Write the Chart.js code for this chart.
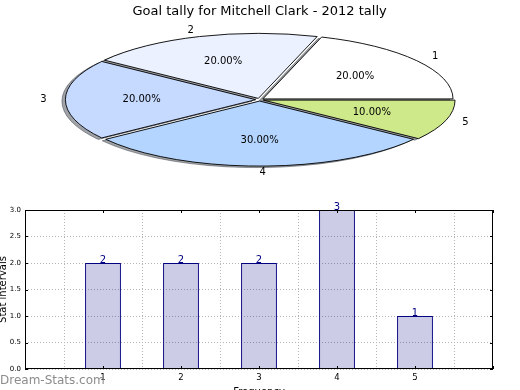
<!DOCTYPE html>
<html><head><meta charset="utf-8">
<script src="https://cdn.jsdelivr.net/npm/chart.js@4.4.1/dist/chart.umd.min.js"></script>
<style>
html,body{margin:0;padding:0;background:#fff;overflow:hidden;width:520px;height:390px;position:relative;}
#pieWrap{position:absolute;left:0;top:0;width:520px;height:195px;}
#barWrap{position:absolute;left:-5px;top:195px;width:525px;height:205px;}
#wm{position:absolute;left:0;top:373px;font:12px "DejaVu Sans";line-height:14px;color:#8c8c8c;z-index:5;white-space:nowrap;}
</style></head><body>
<div id="pieWrap"><canvas id="pie" width="520" height="195"></canvas></div>
<div id="barWrap"><canvas id="bar" width="525" height="205"></canvas></div>
<div id="wm">Dream-Stats.com</div>
<script>
const TITLE = 'Goal tally for Mitchell Clark - 2012 tally';
const categories = ['1', '2', '3', '4', '5'];
const goals = [2, 2, 2, 3, 1];
const sliceColors = ['#ffffff', '#ebf1ff', '#c6d9ff', '#b3d5ff', '#cee98a'];
const xAxisTitle = 'Frequency';
const yAxisTitle = 'Stat intervals';
const watermark = 'Dream-Stats.com';

const FONT = '"DejaVu Sans", "Liberation Sans", sans-serif';
const SY = 0.342;          // vertical squash of the pie (ellipse look)
const SHADOW_DX = -3.5, SHADOW_DY = 1.5;
const total = goals.reduce((a, b) => a + b, 0);

function arcGeom(arc) {
  const p = arc.getProps(['x', 'y', 'startAngle', 'endAngle', 'outerRadius', 'circumference'], true);
  const t = (arc.options.offset || 0) / 4;
  const mid = (p.startAngle + p.endAngle) / 2;
  const rOff = t * (1 - Math.sin(Math.min(Math.PI, p.circumference || 0)));
  return {
    x: p.x, y: p.y, start: p.startAngle, end: p.endAngle, mid: mid,
    R0: p.outerRadius, R: p.outerRadius + rOff,
    ax: p.x + t * Math.cos(mid), ay: p.y - SY * t * Math.sin(mid)
  };
}
function arcPath(ctx, g, dx, dy) {
  ctx.beginPath();
  ctx.moveTo(g.ax + dx, g.ay + dy);
  ctx.ellipse(g.ax + dx, g.ay + dy, g.R, g.R * SY, 0, -g.start, -g.end, true);
  ctx.closePath();
}

const piePlugin = {
  id: 'ellipsePie',
  beforeDatasetsDraw(chart) {
    const ctx = chart.ctx;
    const meta = chart.getDatasetMeta(0);
    const geoms = meta.data.map(arcGeom);
    ctx.save();
    geoms.forEach(g => {
      arcPath(ctx, g, SHADOW_DX, SHADOW_DY);
      ctx.fillStyle = 'rgba(45,50,60,0.45)';
      ctx.fill();
      ctx.lineWidth = 1;
      ctx.strokeStyle = 'rgba(45,50,60,0.45)';
      ctx.stroke();
    });
    ctx.restore();
    const cx = geoms[0].x, cy = geoms[0].y;
    ctx.save();
    ctx.translate(cx, cy);
    ctx.scale(1, -SY);
    ctx.translate(-cx, -cy);
  },
  afterDatasetsDraw(chart) {
    const ctx = chart.ctx;
    ctx.restore();
    const meta = chart.getDatasetMeta(0);
    ctx.save();
    meta.data.forEach((arc, i) => {
      const g = arcGeom(arc);
      arcPath(ctx, g, 0, 0);
      ctx.lineWidth = 0.9;
      ctx.strokeStyle = '#000';
      ctx.stroke();
    });
    ctx.font = '10px ' + FONT;
    ctx.fillStyle = '#000';
    ctx.textBaseline = 'middle';
    meta.data.forEach((arc, i) => {
      const g = arcGeom(arc);
      const c = Math.cos(g.mid), s = Math.sin(g.mid);
      ctx.textAlign = c > -1e-6 ? 'left' : 'right';
      ctx.fillText(chart.data.labels[i], g.ax + 1.1 * g.R0 * c, g.ay - SY * 1.1 * g.R0 * s);
      ctx.textAlign = 'center';
      const pct = (chart.data.datasets[0].data[i] / total * 100).toFixed(2) + '%';
      ctx.fillText(pct, g.ax + 0.6 * g.R0 * c, g.ay - SY * 0.6 * g.R0 * s);
    });
    ctx.restore();
  }
};

new Chart(document.getElementById('pie'), {
  type: 'pie',
  data: {
    labels: categories,
    datasets: [{ data: goals, backgroundColor: sliceColors, borderWidth: 0, offset: 16, clip: false, radius: 190, rotation: 90 }]
  },
  options: {
    responsive: false, animation: false, events: [],
    rotation: 90, radius: 190,
    layout: { padding: { top: 0, bottom: 15.2, left: 0, right: 0.8 } },
    plugins: {
      legend: { display: false }, tooltip: { enabled: false },
      title: { display: true, text: TITLE, color: '#000', font: { family: FONT, size: 13, weight: 'normal' }, padding: { top: 4, bottom: 0 } }
    }
  },
  plugins: [piePlugin]
});

const framePlugin = {
  id: 'frame',
  afterDatasetsDraw(chart) {
    const ctx = chart.ctx, a = chart.chartArea;
    const xs = chart.scales.x, ys = chart.scales.y;
    ctx.save();
    ctx.strokeStyle = '#000';
    ctx.lineWidth = 1;
    ctx.strokeRect(Math.round(a.left) + 0.5, Math.round(a.top) + 0.5, Math.round(a.right - a.left) - 1, Math.round(a.bottom - a.top) - 1);
    ctx.beginPath();
    ys.ticks.forEach(t => {
      const y = Math.round(ys.getPixelForValue(t.value)) + 0.5;
      ctx.moveTo(a.left, y); ctx.lineTo(a.left + 3, y);
      ctx.moveTo(a.right, y); ctx.lineTo(a.right - 3, y);
    });
    xs.ticks.forEach(t => {
      const x = Math.round(xs.getPixelForValue(t.value)) + 0.5;
      ctx.moveTo(x, a.bottom); ctx.lineTo(x, a.bottom - 3);
      ctx.moveTo(x, a.top); ctx.lineTo(x, a.top + 3);
    });
    ctx.stroke();
    // value labels
    const meta = chart.getDatasetMeta(0);
    ctx.font = '10px ' + FONT;
    ctx.fillStyle = '#000080';
    ctx.textAlign = 'center';
    ctx.textBaseline = 'bottom';
    meta.data.forEach((bar, i) => {
      ctx.fillText(String(goals[i]), bar.x, bar.y + 2);
    });
    ctx.restore();
  }
};

new Chart(document.getElementById('bar'), {
  type: 'bar',
  data: {
    datasets: [{
      data: categories.map((c, i) => ({ x: Number(c), y: goals[i] })),
      backgroundColor: 'rgba(0,0,128,0.2)', borderColor: '#000080', borderWidth: 1,
      barPercentage: 0.46, categoryPercentage: 1
    }]
  },
  options: {
    responsive: false, animation: false, events: [],
    layout: { padding: { top: 15, right: 27, left: 0, bottom: 0 }, autoPadding: false },
    scales: {
      x: {
        type: 'linear', min: 0, max: 6, offset: false,
        ticks: { stepSize: 1, autoSkip: false, maxRotation: 0, padding: 4, color: '#000', font: { family: FONT, size: 8.5 },
          callback: v => (v >= 1 && v <= 5) ? String(v) : '' },
        grid: { color: '#b5b5b5', lineWidth: 1, drawTicks: false },
        border: { display: false, dash: [1, 2] },
        title: { display: true, text: xAxisTitle, color: '#000', font: { family: FONT, size: 10 }, padding: { top: 0, bottom: 2 } },
        afterFit(s) { s.height = 31; }
      },
      y: {
        min: 0, max: 3,
        ticks: { stepSize: 0.5, padding: 4, color: '#000', font: { family: FONT, size: 7 }, callback: v => Number(v).toFixed(1) },
        grid: { color: '#b5b5b5', lineWidth: 1, drawTicks: false },
        border: { display: false, dash: [1, 2] },
        title: { display: true, text: yAxisTitle, color: '#000', font: { family: FONT, size: 10 }, padding: { top: 2, bottom: 0 } },
        afterFit(s) { s.width = 30; }
      }
    },
    plugins: { legend: { display: false }, tooltip: { enabled: false } }
  },
  plugins: [framePlugin]
});
document.getElementById('wm').textContent = watermark;
</script>
</body></html>
